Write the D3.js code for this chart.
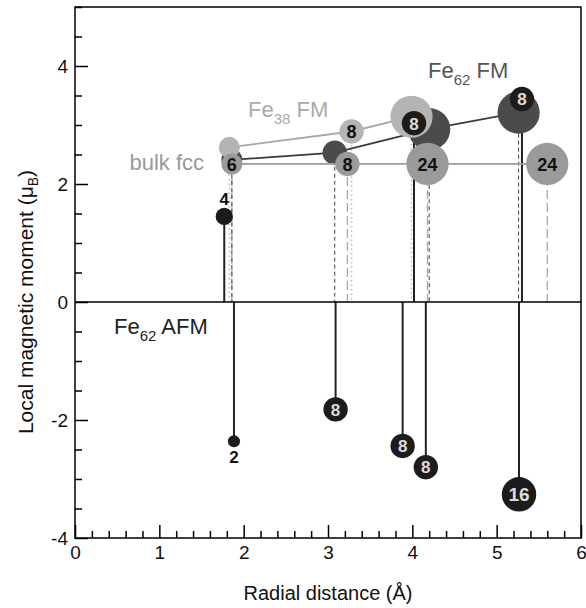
<!DOCTYPE html>
<html>
<head>
<meta charset="utf-8">
<script src="https://cdn.jsdelivr.net/npm/d3@7"></script>
<style>
  body { margin: 0; background: #fff; }
  text { font-family: "Liberation Sans", Arial, sans-serif; }
</style>
</head>
<body>
<div id="chart"></div>
<script>
// shells: radial distance (Å), local moment (μB), number of atoms in shell
const bulkR = [1.86, 3.23, 4.18, 5.60]
const bulkM = [2.34, 2.34, 2.34, 2.34]
const bulkN = [6, 8, 24, 24]

const fe38R = [1.83, 3.28, 3.99]
const fe38M = [2.62, 2.89, 3.14]
const fe38N = [6, 8, 24]

const fmR = [1.86, 3.08, 4.2, 5.26]
const fmM = [2.41, 2.53, 2.93, 3.21]
const fmN = [6, 8, 24, 24]

const afmR = [1.77, 1.885, 3.09, 3.885, 4.02, 4.16, 5.265, 5.30]
const afmM = [1.45, -2.36, -1.82, -2.44, 3.03, -2.80, -3.26, 3.44]
const afmN = [4, 2, 8, 8, 8, 8, 16, 8]

const xMajor = [0, 1, 2, 3, 4, 5, 6]
const yMajor = [-4, -2, 0, 2, 4]

const W = 586
const H = 608

const svg = d3.select('#chart').append('svg')
  .attr('width', W)
  .attr('height', H)

const x = d3.scaleLinear().domain([0, 6]).range([75, 581])
const y = d3.scaleLinear().domain([-4, 5]).range([538, 7])
const r = d3.scaleSqrt().domain([0, 24]).range([0, 21.1])

const zip = (R, M, N) => R.map((d, i) => ({ r: d, m: M[i], n: N[i] }))
const bulk = zip(bulkR, bulkM, bulkN)
const fe38 = zip(fe38R, fe38M, fe38N)
const fm = zip(fmR, fmM, fmN)
const afm = zip(afmR, afmM, afmN)

// axes, ticks pointing inwards
const minorX = d3.range(0, 6.01, 0.2).filter(v => Math.abs(v - Math.round(v)) > 0.01)
const minorY = d3.range(-4, 5.01, 0.5).filter(v => Math.abs(v / 2 - Math.round(v / 2)) > 0.01)

const gx = svg.append('g').attr('transform', `translate(0,${y(-4)})`)
gx.call(d3.axisBottom(x).tickValues(xMajor).tickSize(-13).tickPadding(8).tickFormat(d => String(d)))
gx.append('g').call(d3.axisBottom(x).tickValues(minorX).tickSize(-7).tickFormat(''))

const gy = svg.append('g').attr('transform', `translate(${x(0)},0)`)
gy.call(d3.axisLeft(y).tickValues(yMajor).tickSize(-13).tickPadding(7).tickFormat(d => String(d)))
gy.append('g').call(d3.axisLeft(y).tickValues(minorY).tickSize(-7).tickFormat(''))

svg.selectAll('.domain').remove()
svg.selectAll('.tick line').attr('stroke', '#000').attr('stroke-width', 1.5)
svg.selectAll('.tick text').attr('font-size', 19).attr('fill', '#111')
  .attr('font-family', '"Liberation Sans", Arial, sans-serif')

svg.append('rect')
  .attr('x', x(0)).attr('y', y(5))
  .attr('width', x(6) - x(0)).attr('height', y(-4) - y(5))
  .attr('fill', 'none').attr('stroke', '#000').attr('stroke-width', 1.5)

// vertical drop lines
function drops(data, color, dash, width) {
  svg.append('g').selectAll('line').data(data).join('line')
    .attr('x1', d => x(d.r)).attr('x2', d => x(d.r))
    .attr('y1', d => y(d.m)).attr('y2', y(0))
    .attr('stroke', color).attr('stroke-width', width)
    .attr('stroke-dasharray', dash)
}
drops(bulk, '#a8a8a8', '9,4', 1.3)
drops(fm, '#444', '4,3', 1)
drops(fe38, '#b8b8b8', '1.5,3', 1.5)
drops(afm, '#222', null, 2)

svg.append('line')
  .attr('x1', x(0)).attr('x2', x(6))
  .attr('y1', y(0)).attr('y2', y(0))
  .attr('stroke', '#000').attr('stroke-width', 1.5)

const line = d3.line().x(d => x(d.r)).y(d => y(d.m))

function series(data, fill, stroke) {
  const g = svg.append('g')
  g.append('path').attr('d', line(data))
    .attr('fill', 'none').attr('stroke', stroke).attr('stroke-width', 1.8)
  g.selectAll('circle').data(data).join('circle')
    .attr('cx', d => x(d.r)).attr('cy', d => y(d.m))
    .attr('r', d => r(d.n))
    .attr('fill', fill)
  return g
}

function labels(g, data, color) {
  g.selectAll('text').data(data).join('text')
    .attr('x', d => x(d.r)).attr('y', d => y(d.m))
    .attr('dy', '0.37em')
    .attr('text-anchor', 'middle')
    .attr('font-size', 18).attr('font-weight', 'bold')
    .attr('fill', color)
    .text(d => d.n)
}

series(fm, '#4b4b4b', '#3a3a3a')
const g38 = series(fe38, '#b4b4b4', '#a8a8a8')
labels(g38, fe38.filter(d => d.n === 8), '#111')
const gb = series(bulk, '#9a9a9a', '#9a9a9a')
labels(gb, bulk, '#111')

// AFM: no connecting line
const ga = svg.append('g')
ga.selectAll('circle').data(afm).join('circle')
  .attr('cx', d => x(d.r)).attr('cy', d => y(d.m))
  .attr('r', d => r(d.n))
  .attr('fill', '#1c1c1c')
ga.selectAll('text').data(afm).join('text')
  .attr('x', d => x(d.r))
  .attr('y', d => d.n > 4 ? y(d.m) : y(d.m) + (d.m > 0 ? -r(d.n) - 3 : r(d.n) + 3))
  .attr('dy', d => d.n > 4 ? '0.37em' : (d.m > 0 ? '0' : '0.72em'))
  .attr('text-anchor', 'middle')
  .attr('font-size', d => d.n > 8 ? 19 : 17).attr('font-weight', 'bold')
  .attr('fill', d => d.n > 4 ? '#dcdcdc' : '#111')
  .text(d => d.n)

// series names
function name(tx, ty, base, sub, rest, color, anchor) {
  const t = svg.append('text').attr('x', tx).attr('y', ty)
    .attr('font-size', 22).attr('fill', color).attr('text-anchor', anchor || 'start')
  t.append('tspan').text(base)
  if (sub) {
    t.append('tspan').attr('font-size', 15).attr('dy', 7).text(sub)
    t.append('tspan').attr('dy', -7).text(rest)
  }
}
name(248, 117, 'Fe', '38', ' FM', '#aaaaaa')
name(204, 170, 'bulk fcc', null, null, '#999999', 'end')
name(428, 78, 'Fe', '62', ' FM', '#555555')
name(114, 334, 'Fe', '62', ' AFM', '#222222')

// axis titles
svg.append('text')
  .attr('x', (x(0) + x(6)) / 2).attr('y', 600)
  .attr('text-anchor', 'middle').attr('font-size', 20).attr('fill', '#111')
  .text('Radial distance (Å)')

const yt = svg.append('text')
  .attr('transform', `translate(33,${y(0)}) rotate(-90)`)
  .attr('text-anchor', 'middle').attr('font-size', 21).attr('fill', '#111')
yt.append('tspan').text('Local magnetic moment (μ')
yt.append('tspan').attr('font-size', 14).attr('dy', 5).text('B')
yt.append('tspan').attr('dy', -5).text(')')
</script>
</body>
</html>
